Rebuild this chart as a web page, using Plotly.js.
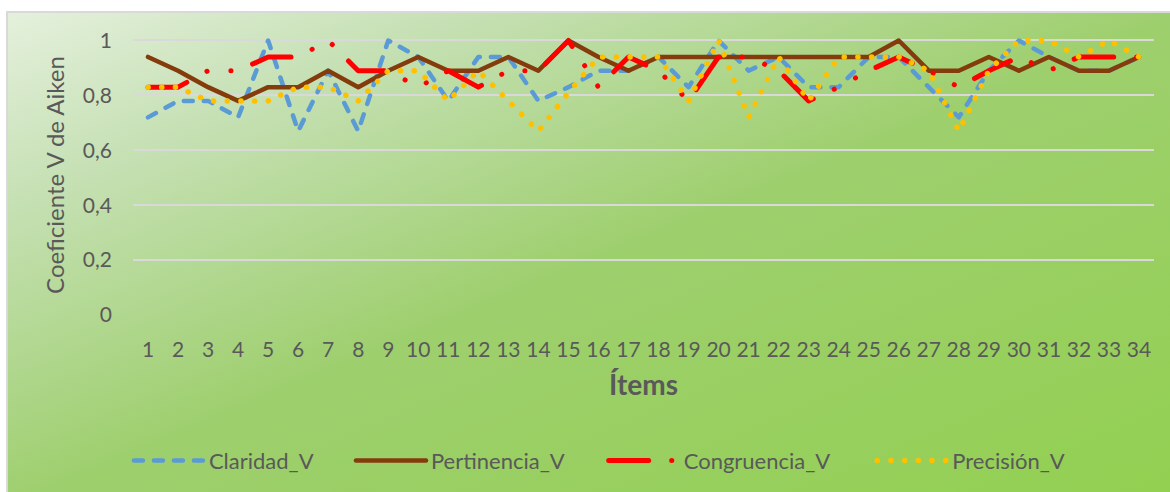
<!DOCTYPE html>
<html>
<head>
<meta charset="utf-8">
<script src="https://cdn.plot.ly/plotly-3.0.1.min.js"></script>
<style>
  html, body { margin:0; padding:0; background:#ffffff; overflow:hidden; }
  #wrap { position:relative; width:1170px; height:492px; overflow:hidden; background:#ffffff; }
  #bg { position:absolute; left:6px; top:11px; width:1170px; height:492px;
        border-left:2px solid #d9d9d9; border-top:2px solid #d9d9d9;
        background:linear-gradient(to bottom right, #e4f0dc 0%, #c5e0b3 20%, #9ecf6e 50%, #92d050 100%); }
  #chart { position:absolute; left:0; top:0; width:1170px; height:492px; }
  #chart .js-line, #chart .legendlines path { stroke-linecap:round !important; stroke-linejoin:round !important; }
</style>
</head>
<body>
<div id="wrap"><div id="bg"></div><div id="chart"></div></div>
<script>
// Ítems
const items = ['1','2','3','4','5','6','7','8','9','10','11','12','13','14','15','16','17',
               '18','19','20','21','22','23','24','25','26','27','28','29','30','31','32','33','34'];

const claridadV    = [0.72,0.78,0.78,0.72,1.00,0.67,0.89,0.67,1.00,0.94,0.78,0.94,0.94,0.78,0.83,0.89,0.89,
                      0.94,0.83,1.00,0.89,0.94,0.83,0.83,0.94,0.94,0.83,0.72,0.89,1.00,0.94,0.89,0.89,0.94];
const pertinenciaV = [0.94,0.89,0.83,0.78,0.83,0.83,0.89,0.83,0.89,0.94,0.89,0.89,0.94,0.89,1.00,0.94,0.89,
                      0.94,0.94,0.94,0.94,0.94,0.94,0.94,0.94,1.00,0.89,0.89,0.94,0.89,0.94,0.89,0.89,0.94];
const congruenciaV = [0.83,0.83,0.89,0.89,0.94,0.94,1.00,0.89,0.89,0.83,0.89,0.83,0.89,0.89,1.00,0.83,0.94,
                      0.89,0.78,0.94,0.94,0.89,0.78,0.83,0.89,0.94,0.89,0.83,0.89,0.94,0.89,0.94,0.94,0.94];
const precisionV   = [0.83,0.83,0.78,0.78,0.78,0.83,0.83,0.78,0.89,0.89,0.78,0.89,0.78,0.67,0.81,0.94,0.94,
                      0.94,0.78,1.00,0.72,0.94,0.78,0.94,0.94,0.94,0.89,0.67,0.89,1.00,1.00,0.94,1.00,0.94];

const seriesNames = ['Claridad_V','Pertinencia_V','Congruencia_V','Precisión_V'];

const textColor = '#595959';

const traces = [
  {x: items, y: claridadV, name: seriesNames[0], type:'scatter', mode:'lines', legend:'legend',
   line:{color:'#5b9bd5', width:4.5, dash:'9px,11px'}},
  {x: items, y: pertinenciaV, name: seriesNames[1], type:'scatter', mode:'lines', legend:'legend2',
   line:{color:'#843c0c', width:4.5}},
  {x: items, y: congruenciaV, name: seriesNames[2], type:'scatter', mode:'lines', legend:'legend3',
   line:{color:'#ff0000', width:5, dash:'40px,23px,0.1px,24px,0.1px,23px'}},
  {x: items, y: precisionV, name: seriesNames[3], type:'scatter', mode:'lines', legend:'legend4',
   line:{color:'#ffc000', width:5.5, dash:'0.1px,13.6px'}}
];

function legendAt(xp) {
  return {orientation:'h', x:xp, xanchor:'left', y:-0.515, yanchor:'middle',
          font:{size:22, color:textColor}, itemwidth:70, bgcolor:'rgba(0,0,0,0)'};
}

const layout = {
  width:1170, height:492,
  paper_bgcolor:'rgba(0,0,0,0)', plot_bgcolor:'rgba(0,0,0,0)',
  separators:',.',
  margin:{l:133, r:16, t:34.5, b:176, pad:0},
  font:{family:'Lato, sans-serif', size:21, color:textColor},
  xaxis:{
    type:'category', range:[-0.5, 33.5], showgrid:false, zeroline:false, showline:false,
    ticks:'', ticklabelstandoff:20, tickfont:{size:21, color:textColor},
    title:{text:'Ítems', font:{size:28, weight:700, color:textColor}, standoff:15}
  },
  yaxis:{
    range:[0, 1.02], tick0:0, dtick:0.2, showgrid:true, gridcolor:'#d9d9d9', gridwidth:2,
    zeroline:false, showline:false, ticks:'', ticklabelstandoff:20,
    tickfont:{size:21, color:textColor},
    title:{text:'Coeficiente V de Aiken', font:{size:24, color:textColor}, standoff:11}
  },
  showlegend:true,
  legend:  legendAt(-0.004),
  legend2: legendAt(0.2135),
  legend3: legendAt(0.461),
  legend4: legendAt(0.724)
};

Plotly.newPlot('chart', traces, layout, {displayModeBar:false, staticPlot:true});
</script>
</body>
</html>
